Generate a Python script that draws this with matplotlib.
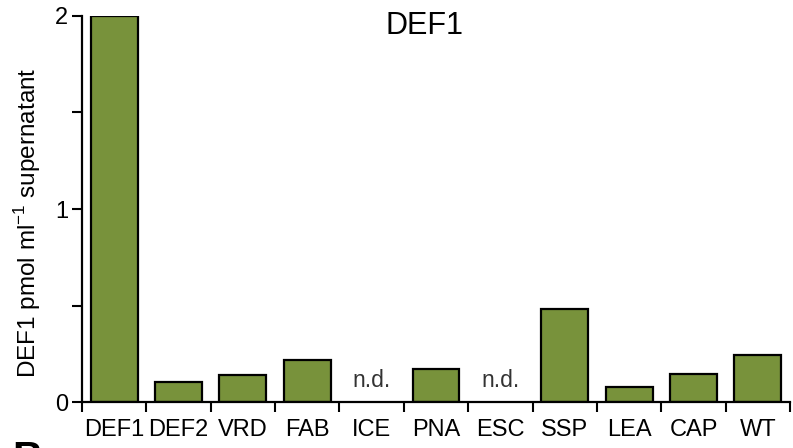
import matplotlib
matplotlib.use("Agg")
import matplotlib.pyplot as plt
from matplotlib.ticker import FixedLocator, FixedFormatter

plt.rcParams['font.family'] = ['Liberation Sans', 'DejaVu Sans']
plt.rcParams['mathtext.fontset'] = 'custom'
plt.rcParams['mathtext.rm'] = 'Liberation Sans'

categories = ["DEF1", "DEF2", "VRD", "FAB", "ICE", "PNA", "ESC", "SSP", "LEA", "CAP", "WT"]
values = [2.0, 0.102, 0.141, 0.216, 0.0, 0.171, 0.0, 0.482, 0.076, 0.145, 0.244]
not_detected = ["ICE", "ESC"]
yticks = [0, 0.5, 1, 1.5, 2]
ytick_labels = ["0", "", "1", "", "2"]
title = "DEF1"
ylabel = "DEF1 pmol ml$^{\\mathrm{-1}}$ supernatant"

green = "#78923b"

fig = plt.figure(figsize=(7.93, 4.48), dpi=100)
ax = fig.add_axes([82/793, 1-402/448, (790-82)/793, (402-16)/448])

x = list(range(len(categories)))
for xi, c, v in zip(x, categories, values):
    if c in not_detected:
        ax.text(xi, 0.078, "n.d.", ha="center", va="baseline", fontsize=16.5, color="#333333")
    else:
        ax.bar(xi, v, width=0.73, color=green, edgecolor="black", linewidth=1.6, zorder=2)

ax.set_xlim(-0.5, len(categories) - 0.5)
ax.set_ylim(0, 2)

for s in ["top", "right"]:
    ax.spines[s].set_visible(False)
for s in ["left", "bottom"]:
    ax.spines[s].set_linewidth(1.6)
    ax.spines[s].set_zorder(3)

ax.xaxis.set_major_locator(FixedLocator([i - 0.5 for i in range(len(categories) + 1)]))
ax.xaxis.set_major_formatter(FixedFormatter([""] * (len(categories) + 1)))
ax.xaxis.set_minor_locator(FixedLocator(x))
ax.xaxis.set_minor_formatter(FixedFormatter(categories))
ax.tick_params(axis="x", which="major", direction="out", length=7, width=1.5)
ax.tick_params(axis="x", which="minor", length=0, pad=12, labelsize=17)

ax.yaxis.set_major_locator(FixedLocator(yticks))
ax.yaxis.set_major_formatter(FixedFormatter(ytick_labels))
ax.tick_params(axis="y", direction="out", length=7, width=1.5, labelsize=17, pad=3)

ax.set_ylabel(ylabel, fontsize=17.5)
ax.yaxis.set_label_coords((43 - 82) / 708, (402 - 223) / 386)

ax.text((425-82)/708, (402-34)/386, title, transform=ax.transAxes, ha="center",
        va="baseline", fontsize=22)

fig.text(12/793, 1-440/448, "B", fontsize=30, fontweight="bold", va="top", ha="left")

fig.savefig("out.png", dpi=100)
